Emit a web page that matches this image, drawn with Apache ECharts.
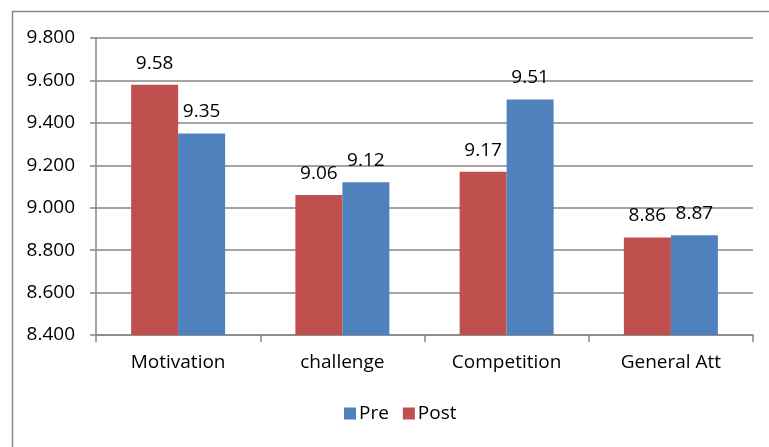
<!DOCTYPE html>
<html>
<head>
<meta charset="utf-8">
<script src="https://cdn.jsdelivr.net/npm/echarts@6/dist/echarts.min.js"></script>
<style>html,body{margin:0;padding:0;background:#fff;}#c{width:769px;height:447px;}</style>
</head>
<body>
<div id="c"></div>
<script>
var categories = ['Motivation', 'challenge', 'Competition', 'General Att'];
var postValues = [9.58, 9.06, 9.17, 8.86];
var preValues = [9.35, 9.12, 9.51, 8.87];
var yTicks = [8.4, 8.6, 8.8, 9.0, 9.2, 9.4, 9.6, 9.8];

var FONT = 'Open Sans';
var FS = 19;
var chart = echarts.init(document.getElementById('c'), null, {renderer: 'canvas'});
var labelCfg = {
  show: true, position: 'top', distance: 12,
  fontFamily: FONT, fontSize: FS, color: '#000',
  formatter: function (p) { return p.value.toFixed(2); }
};
chart.setOption({
  animation: false,
  backgroundColor: '#fff',
  graphic: [{
    type: 'rect', left: 10, top: 9,
    shape: {width: 800, height: 500},
    style: {fill: 'none', stroke: '#868686', lineWidth: 1.5},
    silent: true
  }],
  grid: {left: 96, right: 16, top: 38, bottom: 112, containLabel: false},
  legend: {
    data: ['Pre', 'Post'],
    left: 344, top: 404, padding: 0,
    itemWidth: 12, itemHeight: 12, itemGap: 14,
    icon: 'rect',
    textStyle: {fontFamily: FONT, fontSize: FS, color: '#000', padding: [0, 0, 0, -2]}
  },
  xAxis: {
    type: 'category',
    data: categories,
    axisLine: {show: true, lineStyle: {color: '#868686', width: 1.5}},
    axisTick: {show: true, length: 7, lineStyle: {color: '#868686', width: 1.5}},
    axisLabel: {fontFamily: FONT, fontSize: FS, color: '#000', margin: 18}
  },
  yAxis: {
    type: 'value',
    min: yTicks[0], max: yTicks[yTicks.length - 1], interval: 0.2,
    axisLine: {show: true, lineStyle: {color: '#868686', width: 1.5}},
    axisTick: {show: true, length: 6, lineStyle: {color: '#868686', width: 1.5}},
    splitLine: {show: true, lineStyle: {color: '#868686', width: 1.5}},
    axisLabel: {
      fontFamily: FONT, fontSize: FS, color: '#000', margin: 21,
      formatter: function (v) { return v.toFixed(3); }
    }
  },
  series: [
    {
      name: 'Post', type: 'bar', data: postValues,
      itemStyle: {color: '#C0504D'},
      barWidth: 47, barGap: '0%',
      label: labelCfg
    },
    {
      name: 'Pre', type: 'bar', data: preValues,
      itemStyle: {color: '#4F81BD'},
      barWidth: 47, barGap: '0%',
      label: labelCfg
    }
  ]
});
</script>
</body>
</html>
